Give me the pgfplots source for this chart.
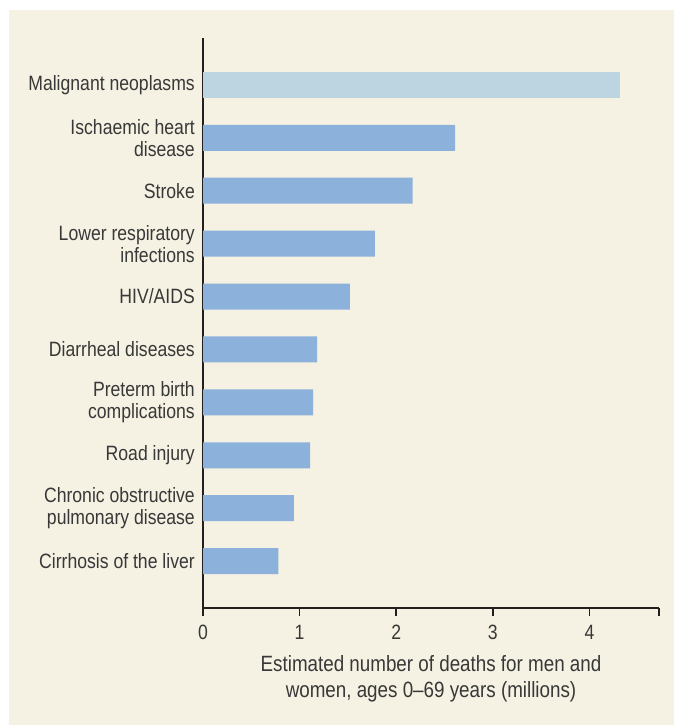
\documentclass[border=0pt]{standalone}
\usepackage{fontspec}
\setmainfont{Liberation Sans}[FakeStretch=0.85]
\usepackage{pgfplots}
\pgfplotsset{compat=1.18}
\definecolor{panel}{HTML}{F5F1E3}
\definecolor{barlight}{HTML}{BDD5E0}
\definecolor{barblue}{HTML}{8CB1DA}
\definecolor{ink}{HTML}{231F20}
\definecolor{txt}{HTML}{383838}
\newcommand{\lblfont}{\fontsize{20.8}{22}\selectfont}
\newcommand{\axfont}{\fontsize{22.2}{26}\selectfont}

\begin{document}
\begin{tikzpicture}
\useasboundingbox (0bp,0bp) rectangle (674bp,725bp);
\fill[white] (0bp,0bp) rectangle (674bp,725bp);
\fill[panel] (9bp,0bp) rectangle (674bp,715bp);
\begin{axis}[
    at={(203bp,117bp)}, anchor=south west,
    scale only axis,
    width=456bp, height=570bp,
    xbar, bar width=26bp, bar shift=0pt,
    xmin=0, xmax=4.72,
    ymin=-0.887, ymax=9.887,
    y dir=reverse,
    axis x line*=bottom, axis y line*=left,
    axis line style={ink, line width=1.6bp},
    xtick={0,1,2,3,4},
    extra x ticks={4.72}, extra x tick labels={},
    extra x tick style={tick style={ink, line width=1.6bp}},
    tick align=outside,
    major tick length=8bp,
    xtick style={ink, line width=1.6bp},
    ytick={0,...,9},
    ytick style={draw=none},
    yticklabels={
        Malignant neoplasms,
        Ischaemic heart\\disease,
        Stroke,
        Lower respiratory\\infections,
        HIV/AIDS,
        Diarrheal diseases,
        Preterm birth\\complications,
        Road injury,
        Chronic obstructive\\pulmonary disease,
        Cirrhosis of the liver},
    yticklabel style={font=\lblfont, text=txt, align=right, inner sep=0pt, xshift=0bp},
    xticklabel style={font=\lblfont, text=txt, inner sep=0pt, yshift=-9bp},
    /pgf/number format/assume math mode=true,
    xlabel={Estimated number of deaths for men and\\women, ages 0--69 years (millions)},
    xlabel style={font=\axfont, text=txt, align=center, at={(axis description cs:0.5,0)}, anchor=north, inner sep=0pt, yshift=-47bp},
]
\addplot[fill=barlight, draw=none] coordinates {(4.32,0)};
\addplot[fill=barblue, draw=none] coordinates {
    (2.61,1) (2.17,2) (1.78,3) (1.52,4) (1.18,5)
    (1.14,6) (1.11,7) (0.94,8) (0.78,9)};
\end{axis}
\end{tikzpicture}
\end{document}
